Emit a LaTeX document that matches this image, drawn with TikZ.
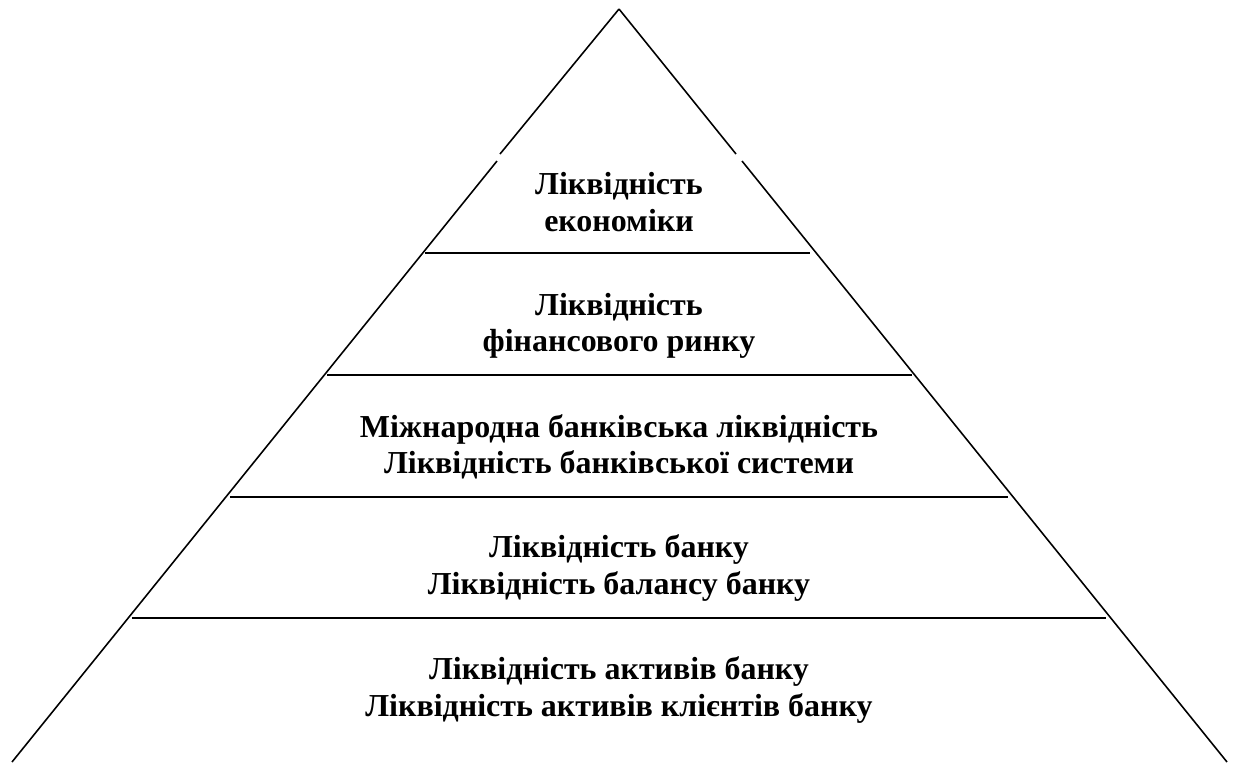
\documentclass[tikz,border=0pt]{standalone}
\usepackage{fontspec}
\setmainfont{Liberation Serif}
\usepackage{tikz}

\tikzset{
  side/.style={line width=0.9pt},
  tier/.style={line width=1.3pt},
  level/.style={align=center,font=\bfseries\fontsize{18.2}{20.8}\selectfont,inner sep=0pt}
}

\begin{document}
\begin{tikzpicture}[x=0.02cm,y=-0.02cm]
\useasboundingbox (0,0) rectangle (1233,762);
\coordinate (apex) at (619,9);
\coordinate (bl) at (12,762);
\coordinate (br) at (1227,762);

% sides of the pyramid, broken just above the top label
\draw[side] (apex) -- (500,154) (497,161) -- (bl);
\draw[side] (apex) -- (736,154) (742,161) -- (br);

\foreach \y/\l/\r in {253/425/810, 375/327/912, 497/230/1008, 618/132/1106}{
    \draw[tier] (\l,\y) -- (\r,\y);
}

\node[level] (econ) at (619,202) {Ліквідність\\економіки};
\node[level] (fin) at (619,326) {Ліквідність\\фінансового ринку};
\node[level] (sys) at (619,447) {Міжнародна банківська ліквідність\\Ліквідність банківської системи};
\node[level] (bank) at (619,568) {Ліквідність банку\\Ліквідність балансу банку};
\node[level] (assets) at (619,690) {Ліквідність активів банку\\Ліквідність активів клієнтів банку};

\end{tikzpicture}
\end{document}
